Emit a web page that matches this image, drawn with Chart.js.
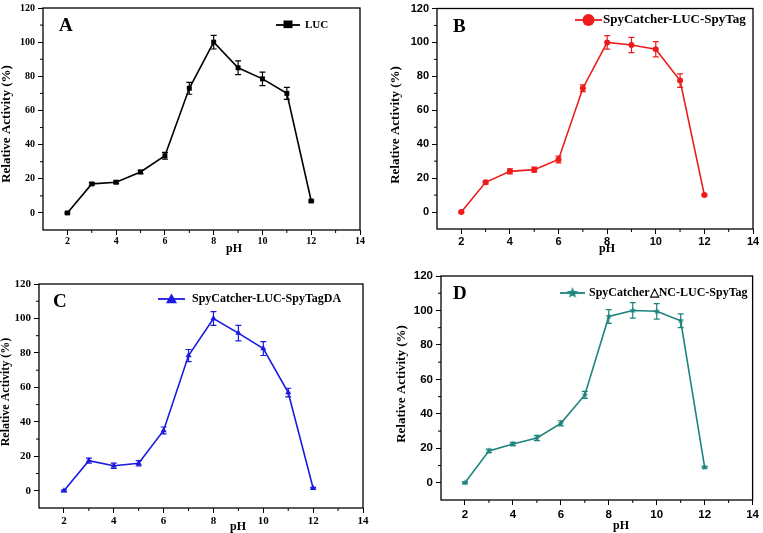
<!DOCTYPE html>
<html>
<head>
<meta charset="utf-8">
<script src="https://cdn.jsdelivr.net/npm/chart.js@4.4.0/dist/chart.umd.min.js"></script>
<style>
  body { margin: 0; background: #fff; overflow: hidden; }
  .panel { position: absolute; }
</style>
</head>
<body>
<div class="panel" style="left:0;top:0;width:380px;height:260px"><canvas id="cA"></canvas></div>
<div class="panel" style="left:380px;top:0;width:383px;height:260px"><canvas id="cB"></canvas></div>
<div class="panel" style="left:0;top:260px;width:380px;height:285px"><canvas id="cC"></canvas></div>
<div class="panel" style="left:380px;top:260px;width:383px;height:285px"><canvas id="cD"></canvas></div>
<script>
var phValues = [2, 3, 4, 5, 6, 7, 8, 9, 10, 11, 12];

var lucActivity = [0, 17, 18, 24, 33.5, 73, 100, 85, 78.5, 70, 7];
var lucError = [0.5, 0.8, 0.8, 1, 2, 3.5, 4, 4, 4, 3.5, 0.5];

var spyActivity = [0, 17.5, 24, 25, 31, 73, 100, 98.5, 96, 77.5, 10];
var spyError = [0.5, 1, 1.5, 1.5, 2, 2, 4, 4.5, 4.5, 4, 0.5];

var spyDAActivity = [0, 17.5, 14.5, 16, 35, 78.5, 100, 91.5, 82.5, 57, 1.5];
var spyDAError = [0.5, 1.5, 1.5, 1.5, 2, 3.5, 4, 4.5, 4, 2.5, 0.5];

var spyNCActivity = [0, 18.5, 22.5, 26, 34.5, 51, 96.5, 100, 99.5, 94, 9];
var spyNCError = [0.5, 1, 1, 1.5, 1.5, 2, 4, 4.5, 4.5, 4, 0.5];

var xTicks = [2, 4, 6, 8, 10, 12, 14];
var xMinorTicks = [3, 5, 7, 9, 11, 13];
var yTicks = [0, 20, 40, 60, 80, 100, 120];
var yMinorTicks = [10, 30, 50, 70, 90, 110];

var xTitle = 'pH';
var yTitle = 'Relative Activity (%)';

var SERIF = "'Liberation Serif', 'Times New Roman', serif";
var SANS = "'Liberation Sans', Arial, sans-serif";

// filled five point star, used as point style in panel D
function starImage(r, color) {
    var c = document.createElement('canvas');
    c.width = c.height = Math.ceil(r * 2 + 2);
    var g = c.getContext('2d');
    var cx = c.width / 2, cy = c.height / 2;
    g.beginPath();
    for (var i = 0; i < 10; i++) {
        var rad = i % 2 === 0 ? r : r * 0.42;
        var a = -Math.PI / 2 + i * Math.PI / 5;
        g.lineTo(cx + rad * Math.cos(a), cy + rad * Math.sin(a));
    }
    g.closePath();
    g.fillStyle = color;
    g.fill();
    return c;
}

function drawMarker(ctx, style, x, y, size, color) {
    ctx.fillStyle = color;
    ctx.beginPath();
    if (style === 'rect') {
        ctx.rect(x - size / 2, y - size / 2, size, size * 0.85);
    } else if (style === 'circle') {
        ctx.arc(x, y, size / 2, 0, Math.PI * 2);
    } else if (style === 'triangle') {
        ctx.moveTo(x, y - size / 2);
        ctx.lineTo(x + size / 2, y + size / 2.6);
        ctx.lineTo(x - size / 2, y + size / 2.6);
        ctx.closePath();
    } else if (style === 'star') {
        ctx.drawImage(starImage(size / 2, color), x - size / 2 - 1, y - size / 2 - 1);
        return;
    }
    ctx.fill();
}

// frame, minor ticks, error bars, axis titles, legend and panel letter
var decorPlugin = {
    id: 'decor',
    afterDatasetsDraw: function (chart) {
        var o = chart.options.plugins.decor;
        var ctx = chart.ctx;
        var xs = chart.scales.x, ys = chart.scales.y;
        var a = chart.chartArea;
        ctx.save();
        // error bars
        ctx.strokeStyle = o.color;
        ctx.lineWidth = 1.2;
        for (var i = 0; i < phValues.length; i++) {
            var px = xs.getPixelForValue(phValues[i]);
            var lo = ys.getPixelForValue(o.values[i] - o.errors[i]);
            var hi = ys.getPixelForValue(o.values[i] + o.errors[i]);
            ctx.beginPath();
            ctx.moveTo(px, lo); ctx.lineTo(px, hi);
            ctx.moveTo(px - 3, lo); ctx.lineTo(px + 3, lo);
            ctx.moveTo(px - 3, hi); ctx.lineTo(px + 3, hi);
            ctx.stroke();
        }
        // frame
        ctx.strokeStyle = '#000';
        ctx.lineWidth = 1.3;
        ctx.strokeRect(a.left, a.top, a.right - a.left, a.bottom - a.top);
        // minor ticks
        ctx.lineWidth = 1;
        ctx.beginPath();
        xMinorTicks.forEach(function (v) {
            var p = xs.getPixelForValue(v);
            ctx.moveTo(p, a.bottom); ctx.lineTo(p, a.bottom + 3);
        });
        yMinorTicks.forEach(function (v) {
            var p = ys.getPixelForValue(v);
            ctx.moveTo(a.left, p); ctx.lineTo(a.left - 3, p);
        });
        ctx.stroke();
        // axis titles
        ctx.fillStyle = '#000';
        ctx.textAlign = 'center';
        ctx.textBaseline = 'middle';
        ctx.font = 'bold ' + o.xTitle.size + 'px ' + SERIF;
        ctx.fillText(xTitle, o.xTitle.x, o.xTitle.y);
        ctx.save();
        ctx.translate(o.yTitle.x, o.yTitle.y);
        ctx.rotate(-Math.PI / 2);
        ctx.font = 'bold ' + o.yTitle.size + 'px ' + SERIF;
        ctx.fillText(yTitle, 0, 0);
        ctx.restore();
        // legend
        var L = o.legend;
        ctx.strokeStyle = o.color;
        ctx.lineWidth = 1.8;
        ctx.beginPath();
        ctx.moveTo(L.x1, L.y); ctx.lineTo(L.x2, L.y);
        ctx.stroke();
        drawMarker(ctx, o.marker, (L.x1 + L.x2) / 2, L.y, L.size, o.color);
        ctx.fillStyle = '#000';
        ctx.font = 'bold ' + L.fontSize + 'px ' + SERIF;
        ctx.textAlign = 'left';
        ctx.fillText(L.text, L.tx, L.y);
        // panel letter
        ctx.font = 'bold 19px ' + SERIF;
        ctx.fillText(o.letter.text, o.letter.x, o.letter.y);
        ctx.restore();
    }
};

function makeChart(id, p) {
    var tickFont = { family: p.tickFamily, weight: 'bold', size: p.tickSize, lineHeight: 1 };
    return new Chart(document.getElementById(id), {
        type: 'line',
        data: {
            datasets: [{
                data: phValues.map(function (v, i) { return { x: v, y: p.values[i] }; }),
                borderColor: p.color,
                backgroundColor: p.color,
                borderWidth: 1.6,
                pointStyle: p.pointStyle,
                pointRadius: p.pointRadius,
                pointBorderWidth: 0,
                tension: 0
            }]
        },
        options: {
            responsive: true,
            maintainAspectRatio: false,
            animation: false,
            layout: { padding: p.padding },
            plugins: {
                legend: { display: false },
                tooltip: { enabled: false },
                decor: {
                    color: p.color, values: p.values, errors: p.errors,
                    marker: p.marker, legend: p.legend, letter: p.letter,
                    xTitle: p.xTitle, yTitle: p.yTitle
                }
            },
            scales: {
                x: {
                    type: 'linear', min: 1, max: 14,
                    afterBuildTicks: function (s) { s.ticks = xTicks.map(function (v) { return { value: v }; }); },
                    afterFit: function (s) { s.height = p.xHeight; },
                    border: { display: false },
                    grid: { drawOnChartArea: false, drawTicks: true, tickLength: 5, tickColor: '#000', tickWidth: 1 },
                    ticks: { color: '#000', font: tickFont, padding: p.xPad, maxRotation: 0, autoSkip: false }
                },
                y: {
                    min: -10, max: 120,
                    afterBuildTicks: function (s) { s.ticks = yTicks.map(function (v) { return { value: v }; }); },
                    afterFit: function (s) { s.width = p.yWidth; },
                    border: { display: false },
                    grid: { drawOnChartArea: false, drawTicks: true, tickLength: 5, tickColor: '#000', tickWidth: 1 },
                    ticks: { color: '#000', font: tickFont, padding: 3 }
                }
            }
        },
        plugins: [decorPlugin]
    });
}

makeChart('cA', {
    values: lucActivity, errors: lucError, color: '#000000',
    pointStyle: 'rect', pointRadius: 3.5, marker: 'rect',
    tickFamily: SERIF, tickSize: 10,
    padding: { left: 0, top: 5, right: 20, bottom: 0 },
    yWidth: 43, xHeight: 30, xPad: 1,
    xTitle: { x: 234, y: 249, size: 12 },
    yTitle: { x: 7, y: 124, size: 13 },
    legend: { x1: 276, x2: 300, y: 25, size: 9, tx: 305, fontSize: 11, text: 'LUC' },
    letter: { text: 'A', x: 59, y: 26 }
});

makeChart('cB', {
    values: spyActivity, errors: spyError, color: '#ec1c1c',
    pointStyle: 'circle', pointRadius: 3, marker: 'circle',
    tickFamily: SANS, tickSize: 11,
    padding: { left: 0, top: 5, right: 10, bottom: 0 },
    yWidth: 57, xHeight: 31, xPad: 2,
    xTitle: { x: 227, y: 249, size: 12 },
    yTitle: { x: 16, y: 125, size: 13 },
    legend: { x1: 195, x2: 222, y: 20, size: 12, tx: 223, fontSize: 13, text: 'SpyCatcher-LUC-SpyTag' },
    letter: { text: 'B', x: 73, y: 27 }
});

makeChart('cC', {
    values: spyDAActivity, errors: spyDAError, color: '#1a1ae0',
    pointStyle: 'triangle', pointRadius: 3.5, marker: 'triangle',
    tickFamily: SERIF, tickSize: 11,
    padding: { left: 0, top: 24, right: 17, bottom: 0 },
    yWidth: 39, xHeight: 37, xPad: 3,
    xTitle: { x: 238, y: 267, size: 12 },
    yTitle: { x: 6, y: 132, size: 12 },
    legend: { x1: 158, x2: 185, y: 39, size: 11, tx: 192, fontSize: 12, text: 'SpyCatcher-LUC-SpyTagDA' },
    letter: { text: 'C', x: 53, y: 42 }
});

makeChart('cD', {
    values: spyNCActivity, errors: spyNCError, color: '#1c837d',
    pointStyle: starImage(3.5, '#1c837d'), pointRadius: 3.5, marker: 'star',
    tickFamily: SANS, tickSize: 11.5,
    padding: { left: 0, top: 16, right: 6, bottom: 0 },
    yWidth: 61, xHeight: 45, xPad: 4,
    xTitle: { x: 241, y: 266, size: 12 },
    yTitle: { x: 22, y: 124, size: 13 },
    legend: { x1: 180, x2: 205, y: 33, size: 12, tx: 209, fontSize: 12, text: 'SpyCatcher\u25B3NC-LUC-SpyTag' },
    letter: { text: 'D', x: 73, y: 34 }
});
</script>
</body>
</html>
